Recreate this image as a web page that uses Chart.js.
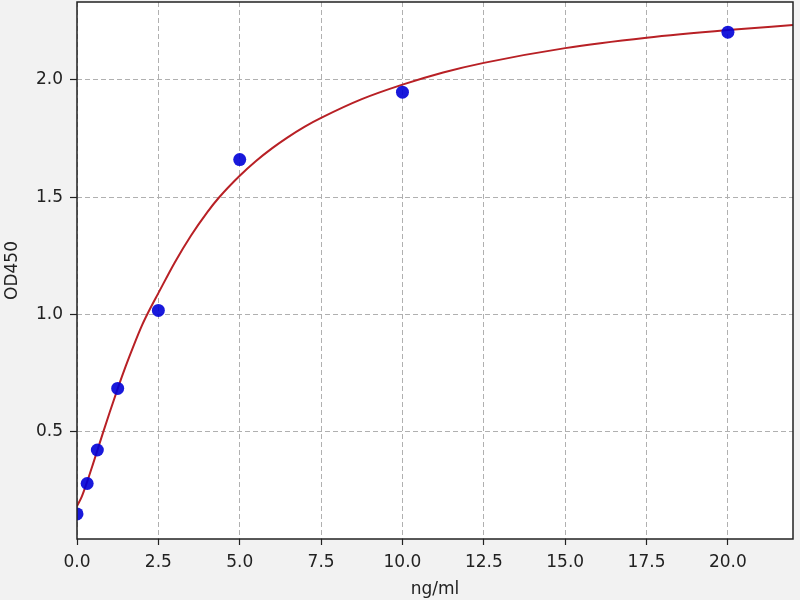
<!DOCTYPE html>
<html>
<head>
<meta charset="utf-8">
<script src="https://cdn.jsdelivr.net/npm/chart.js@4.4.1/dist/chart.umd.min.js"></script>
<style>
  html, body { margin: 0; padding: 0; background: #f2f2f2; }
  #wrap { width: 800px; height: 600px; }
</style>
</head>
<body>
<div id="wrap"><canvas id="c" width="800" height="600"></canvas></div>
<script>
// Standard points (concentration ng/ml vs OD450)
const concentrations = [0, 0.3125, 0.625, 1.25, 2.5, 5, 10, 20];
const odValues = [0.147, 0.277, 0.42, 0.683, 1.016, 1.66, 1.948, 2.204];

// Fitted curve
const curveX = [0, 0.15, 0.3125, 0.5, 0.625, 0.79, 1.0, 1.25, 1.5, 1.75, 2.0, 2.19, 2.5, 3.0, 3.5, 4.0, 4.35, 5.0, 5.5, 6.0, 6.45, 7.0, 7.5, 8.75, 10, 11.25, 12.5, 15, 17.5, 20, 22];
const curveY = [0.18, 0.222, 0.285, 0.364, 0.418, 0.49, 0.579, 0.682, 0.779, 0.869, 0.953, 1.008, 1.09, 1.22, 1.335, 1.435, 1.496, 1.591, 1.654, 1.709, 1.753, 1.801, 1.838, 1.918, 1.98, 2.032, 2.073, 2.136, 2.18, 2.213, 2.235];

const xTicks = [0, 2.5, 5, 7.5, 10, 12.5, 15, 17.5, 20];
const yTicks = [0.5, 1.0, 1.5, 2.0];
const xRange = [0, 22];
const yRange = [0.04, 2.333];

const pointData = concentrations.map((x, i) => ({ x: x, y: odValues[i] }));
const curveData = curveX.map((x, i) => ({ x: x, y: curveY[i] }));

const bgPlugin = {
  id: 'bg',
  beforeDraw(chart) {
    const { ctx, chartArea: a } = chart;
    ctx.save();
    ctx.fillStyle = '#f2f2f2';
    ctx.fillRect(0, 0, chart.width, chart.height);
    ctx.fillStyle = '#ffffff';
    ctx.fillRect(a.left, a.top, a.right - a.left, a.bottom - a.top);
    ctx.restore();
  },
  afterDraw(chart) {
    const { ctx, chartArea: a } = chart;
    ctx.save();
    ctx.strokeStyle = '#222222';
    ctx.lineWidth = 1.5;
    ctx.strokeRect(a.left, a.top, a.right - a.left, a.bottom - a.top);
    ctx.restore();
  }
};

const font = { family: 'DejaVu Sans', size: 17 };

new Chart(document.getElementById('c'), {
  type: 'scatter',
  data: {
    datasets: [
      {
        label: 'points',
        data: pointData,
        pointRadius: 6.5,
        pointBackgroundColor: 'rgba(0,0,215,0.9)',
        pointBorderColor: 'rgba(0,0,215,0.9)',
        pointBorderWidth: 0,
        showLine: false,
        order: 0
      },
      {
        label: 'fit',
        data: curveData,
        showLine: true,
        pointRadius: 0,
        borderColor: '#b82025',
        borderWidth: 2,
        cubicInterpolationMode: 'monotone',
        fill: false,
        order: 1
      }
    ]
  },
  options: {
    responsive: false,
    animation: false,
    devicePixelRatio: 1,
    layout: { autoPadding: false, padding: { left: 0, right: 7, top: 2, bottom: 0 } },
    plugins: { legend: { display: false }, tooltip: { enabled: false } },
    scales: {
      x: {
        type: 'linear',
        min: xRange[0],
        max: xRange[1],
        afterBuildTicks: s => { s.ticks = xTicks.map(v => ({ value: v })); },
        afterFit: s => { s.height = 61; s.paddingLeft = 0; s.paddingRight = 0; },
        ticks: {
          color: '#222',
          font: font,
          padding: 7,
          maxRotation: 0,
          callback: v => Number(v).toFixed(1)
        },
        grid: {
          color: '#b0b0b0',
          lineWidth: 1,
          drawTicks: true,
          tickLength: 6,
          tickColor: '#222',
          tickWidth: 1.2
        },
        border: { display: false, dash: [5, 3] },
        title: { display: true, text: 'ng/ml', color: '#222', font: font, padding: { top: 0, bottom: 0 } }
      },
      y: {
        type: 'linear',
        min: yRange[0],
        max: yRange[1],
        afterBuildTicks: s => { s.ticks = yTicks.map(v => ({ value: v })); },
        afterFit: s => { s.width = 77; s.paddingTop = 0; s.paddingBottom = 0; },
        ticks: {
          color: '#222',
          font: font,
          padding: 7,
          callback: v => Number(v).toFixed(1)
        },
        grid: {
          color: '#b0b0b0',
          lineWidth: 1,
          drawTicks: true,
          tickLength: 7,
          tickColor: '#222',
          tickWidth: 1.2
        },
        border: { display: false, dash: [5, 3] },
        title: { display: true, text: 'OD450', color: '#222', font: font, padding: { top: 2, bottom: 0 } }
      }
    }
  },
  plugins: [bgPlugin]
});
</script>
</body>
</html>
